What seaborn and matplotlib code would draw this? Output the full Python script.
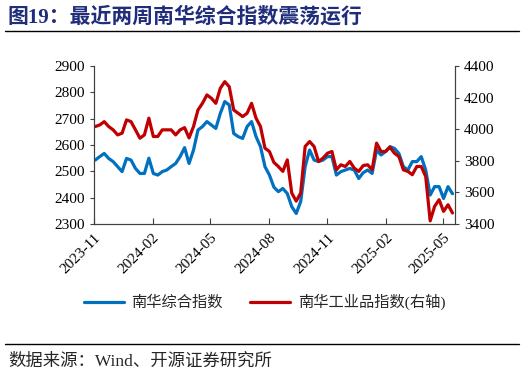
import matplotlib
matplotlib.use("Agg")
import matplotlib.pyplot as plt
import matplotlib.dates as mdates
import seaborn as sns
import pandas as pd

# weekly readings, 2023-11-03 .. 2025-05-16
fechas = pd.date_range("2023-11-03", periods=81, freq="W-FRI")

nanhua_zonghe = [
    2543, 2556, 2568, 2549, 2537, 2518, 2499, 2549, 2543, 2511,
    2492, 2492, 2550, 2492, 2486, 2499, 2505, 2518, 2530, 2556,
    2590, 2530, 2581, 2657, 2670, 2689, 2676, 2663, 2720, 2765,
    2752, 2644, 2632, 2625, 2670, 2689, 2632, 2594, 2518, 2486,
    2440, 2423, 2435, 2416, 2366, 2340, 2385, 2518, 2581, 2543,
    2537, 2543, 2556, 2556, 2486, 2499, 2505, 2511, 2505, 2473,
    2495, 2505, 2492, 2581, 2562, 2575, 2594, 2587, 2568, 2518,
    2505, 2537, 2537, 2556, 2505, 2410, 2442, 2442, 2397, 2442,
    2415,
]

nanhua_gongye = [
    4017, 4027, 4048, 4017, 3996, 3964, 3975, 4059, 4048, 3996,
    3943, 3964, 4070, 3954, 3954, 3996, 3996, 3996, 3964, 3996,
    4010, 3945, 4017, 4122, 4164, 4217, 4196, 4164, 4259, 4301,
    4269, 4122, 4101, 4080, 4101, 4164, 4070, 4017, 3880, 3859,
    3790, 3764, 3733, 3806, 3596, 3545, 3596, 3891, 3922, 3891,
    3796, 3817, 3848, 3859, 3743, 3775, 3764, 3796, 3754, 3733,
    3770, 3775, 3743, 3912, 3859, 3859, 3886, 3848, 3827, 3743,
    3733, 3712, 3764, 3764, 3701, 3420, 3512, 3554, 3480, 3522,
    3470,
]

df = pd.DataFrame({"fecha": fechas, "zonghe": nanhua_zonghe, "gongye": nanhua_gongye})

sns.set_style("ticks")
fuentes = ["Liberation Serif", "Noto Sans CJK SC"]
plt.rcParams["font.family"] = fuentes
plt.rcParams["axes.edgecolor"] = "#404040"
plt.rcParams["xtick.color"] = "#404040"
plt.rcParams["ytick.color"] = "#404040"

fig = plt.figure(figsize=(5.24, 3.74), dpi=100)
ax = fig.add_axes([0.1794, 0.401, 0.689, 0.4225])
ax2 = ax.twinx()

azul = "#0070C0"
rojo = "#C00000"
sns.lineplot(data=df, x="fecha", y="zonghe", ax=ax, color=azul, linewidth=2.3, label="南华综合指数", legend=False)
sns.lineplot(data=df, x="fecha", y="gongye", ax=ax2, color=rojo, linewidth=2.3, label="南华工业品指数(右轴)", legend=False)

ax.set_ylim(2300, 2900)
ax.set_yticks(range(2300, 2901, 100))
ax2.set_ylim(3400, 4400)
ax2.set_yticks(range(3400, 4401, 200))
ax.set_xlim(pd.Timestamp("2023-11-01"), pd.Timestamp("2025-05-20"))
ax.xaxis.set_major_locator(mdates.MonthLocator(bymonth=[2, 5, 8, 11]))
ax.xaxis.set_major_formatter(mdates.DateFormatter("%Y-%m"))

ax.set_xlabel("")
ax.set_ylabel("")
ax2.set_ylabel("")
for a in (ax, ax2):
    a.spines["top"].set_visible(False)
ax.tick_params(axis="x", direction="in", length=4, labelsize=11, labelcolor="black", pad=5)
ax.tick_params(axis="y", direction="out", length=3, labelsize=11, labelcolor="black")
ax2.tick_params(axis="y", direction="out", length=3, labelsize=11, labelcolor="black")
plt.setp(ax.get_xticklabels(), rotation=45, ha="right", rotation_mode="anchor")

h1, l1 = ax.get_legend_handles_labels()
h2, l2 = ax2.get_legend_handles_labels()
fig.legend(h1 + h2, l1 + l2, loc="center", bbox_to_anchor=(0.505, 0.193), ncol=2,
           frameon=False, handlelength=2.6, handletextpad=0.5, columnspacing=1.8,
           prop={"family": fuentes, "size": 11})

# titulo y fuente
fig.text(0.015, 0.953, "图19：最近两周南华综合指数震荡运行", fontsize=15, fontweight="bold",
         color="#1F2D7B", va="center", family=fuentes)
fig.add_artist(plt.Line2D([0.01, 0.99], [0.917, 0.917], color="black", linewidth=1))
fig.add_artist(plt.Line2D([0.01, 0.99], [0.08, 0.08], color="black", linewidth=1))
fig.text(0.015, 0.032, "数据来源：Wind、开源证券研究所", fontsize=12.5, va="center", family=fuentes)

plt.savefig("out.png", dpi=100)
